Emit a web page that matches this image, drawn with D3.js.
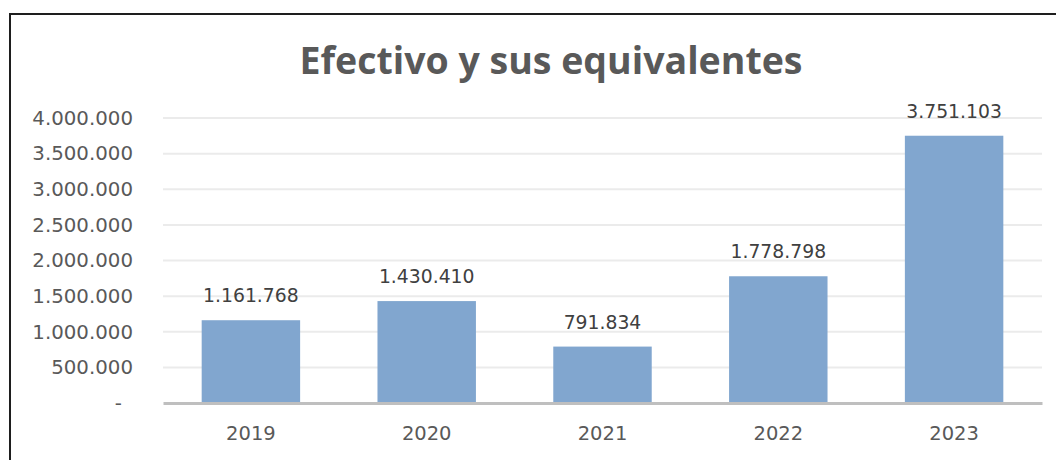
<!DOCTYPE html>
<html>
<head>
<meta charset="utf-8">
<script src="https://cdn.jsdelivr.net/npm/d3@7"></script>
<style>
  body { margin:0; background:#fff; }
  svg { display:block; }
</style>
</head>
<body>
<div id="canvas"></div>
<script>
// data
var years = ['2019','2020','2021','2022','2023'];
var values = [1161768, 1430410, 791834, 1778798, 3751103];
var tickValues = [0, 500000, 1000000, 1500000, 2000000, 2500000, 3000000, 3500000, 4000000];
var title = 'Efectivo y sus equivalentes';

var W = 1056, H = 460;
var m = {t:118, r:14, b:57, l:163};
var w = W - m.l - m.r,
    h = H - m.t - m.b;

var svg = d3.select('#canvas').append('svg')
    .attr('width', W).attr('height', H);

// outer frame (cut off at right and bottom)
svg.append('rect')
    .attr('x', 10).attr('y', 14)
    .attr('width', W + 20).attr('height', H + 20)
    .attr('fill', 'none').attr('stroke', '#1e1e1e').attr('stroke-width', 2);

svg.append('text')
    .attr('x', 551).attr('y', 74)
    .attr('text-anchor', 'middle')
    .style('font-family', '"Open Sans", sans-serif')
    .style('font-weight', 'bold')
    .style('font-size', '37.5px')
    .style('fill', '#595959')
    .text(title);

var plot = svg.append('g')
    .attr('transform', 'translate(' + m.l + ',' + m.t + ')');

var scaleX = d3.scaleBand().domain(years).range([0, w]).paddingInner(0.44).paddingOuter(0.22);
var scaleY = d3.scaleLinear().domain([0, 4000000]).range([h, 0]);

var fmt = function(v){
    if (v === 0) return '-';
    return d3.format(',')(v).replace(/,/g, '.');
};

// gridlines
plot.selectAll('.grid')
    .data(tickValues.filter(function(d){ return d > 0; }))
    .enter().append('line')
    .attr('x1', 0).attr('x2', w)
    .attr('y1', function(d){ return scaleY(d); })
    .attr('y2', function(d){ return scaleY(d); })
    .attr('stroke', '#ebebeb').attr('stroke-width', 2);

// y axis labels
var axisY = d3.axisLeft(scaleY).tickValues(tickValues).tickFormat(fmt).tickSize(0).tickPadding(30);
var gy = plot.append('g').attr('class', 'axis axis-y').call(axisY);
gy.select('.domain').remove();
gy.selectAll('text')
    .style('font-family', '"DejaVu Sans", sans-serif')
    .style('font-size', '19.8px')
    .style('fill', '#595959')
    .attr('dx', function(d){ return d === 0 ? -11 : 0; });

// bars
plot.selectAll('.bar')
    .data(values)
    .enter().append('rect')
    .attr('class', 'bar')
    .attr('x', function(d, i){ return scaleX(years[i]); })
    .attr('width', scaleX.bandwidth())
    .attr('y', function(d){ return scaleY(d); })
    .attr('height', function(d){ return h - scaleY(d); })
    .attr('fill', '#81a6cf');

// value labels
plot.selectAll('.lbl')
    .data(values)
    .enter().append('text')
    .attr('class', 'lbl')
    .attr('x', function(d, i){ return scaleX(years[i]) + scaleX.bandwidth() / 2; })
    .attr('y', function(d){ return scaleY(d) - 18; })
    .attr('text-anchor', 'middle')
    .style('font-family', '"DejaVu Sans", sans-serif')
    .style('font-size', '18.8px')
    .style('fill', '#404040')
    .text(fmt);

// x axis
var axisX = d3.axisBottom(scaleX).tickSize(0).tickPadding(23);
var gx = plot.append('g').attr('class', 'axis axis-x')
    .attr('transform', 'translate(0,' + h + ')')
    .call(axisX);
gx.select('.domain').attr('stroke', '#bfbfbf').attr('stroke-width', 3);
gx.selectAll('text')
    .style('font-family', '"DejaVu Sans", sans-serif')
    .style('font-size', '19.5px')
    .style('fill', '#595959');
</script>
</body>
</html>
